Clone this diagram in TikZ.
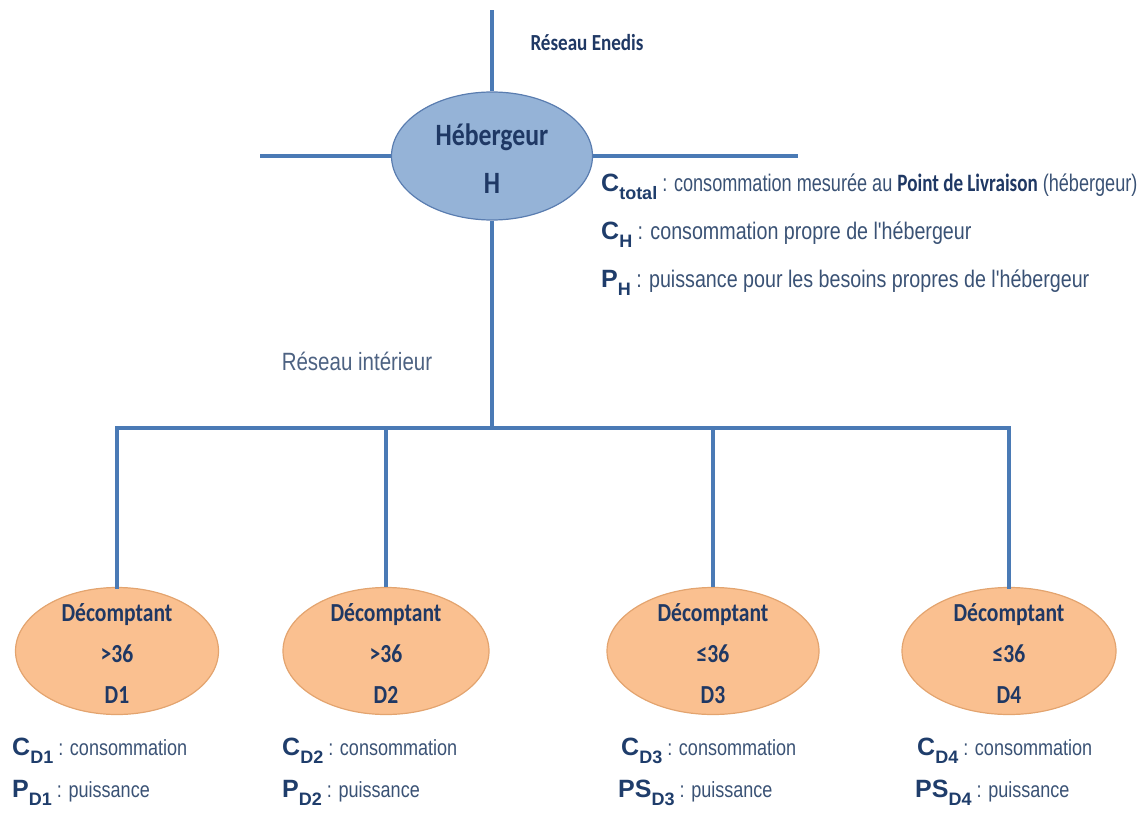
\documentclass[tikz,border=0pt]{standalone}
\usepackage{fontspec}
\setmainfont{Liberation Sans}
\newfontfamily\calf[FakeStretch=0.83]{Carlito}
\newfontfamily\narf[FakeStretch=0.82]{Liberation Sans}
\newfontfamily\arf{Liberation Sans}
\usetikzlibrary{shapes.geometric}
\definecolor{linecol}{HTML}{4A7AB5}
\definecolor{hebfill}{HTML}{95B3D7}
\definecolor{hebdraw}{HTML}{5A7DB0}
\definecolor{orfill}{HTML}{FAC090}
\definecolor{ordraw}{HTML}{E3A46F}
\definecolor{navy}{HTML}{1F3D6B}
\definecolor{inner}{HTML}{1F3864}
\definecolor{desccol}{HTML}{3A5275}
\definecolor{greyblue}{HTML}{4D6282}
\newcommand\mysym[2]{{\arf\bfseries\fontsize{25}{25}\selectfont #1}\raisebox{-8.5pt}{\arf\bfseries\fontsize{18}{18}\selectfont #2}}
\newcommand\mydesc[1]{{\narf\fontsize{24}{24}\selectfont\color{desccol}#1}}
\newcommand\mysdesc[1]{{\narf\fontsize{22}{22}\selectfont\color{desccol}#1}}
\tikzset{
  wire/.style={draw=linecol, line width=3.2pt},
  hebshape/.style={ellipse, draw=hebdraw, fill=hebfill, line width=1.2pt, inner sep=0pt},
  dshape/.style={ellipse, draw=ordraw, fill=orfill, line width=1.2pt, inner sep=0pt, minimum height=127pt},
  intext/.style={align=center, text=inner, inner sep=0pt},
  desc/.style={anchor=base west, inner sep=0pt, text=navy, align=left},
}
\begin{document}
\begin{tikzpicture}[x=1pt,y=-1pt]
\useasboundingbox (0,0) rectangle (1143,819);
% nodes
\node[hebshape, minimum width=201pt, minimum height=128pt] (heb) at (492,156) {};
\node[dshape, minimum width=203pt] (d1) at (117,651) {};
\node[dshape, minimum width=206pt] (d2) at (386,651) {};
\node[dshape, minimum width=212pt] (d3) at (713,651) {};
\node[dshape, minimum width=214pt] (d4) at (1009,651) {};
\coordinate (topc) at (492,10);
\coordinate (leftc) at (260,156);
\coordinate (rightc) at (798,156);
\coordinate (junc) at (492,428);
% connectors
\draw[wire] (topc) -- (heb.north);
\draw[wire] (leftc) -- (heb.west);
\draw[wire] (heb.east) -- (rightc);
\draw[wire] (heb.south) -- (junc);
\draw[wire, line cap=rect] (d1.north) |- (junc -| d4.north) -- (d4.north);
\draw[wire] (d2.north) -- (d2.north |- junc);
\draw[wire] (d3.north) -- (d3.north |- junc);
% texts in ellipses
\node[intext, font={\calf\bfseries\fontsize{31}{48}\selectfont}] (hebt) at ([yshift=-3pt]heb.center) {Hébergeur\\H};
\foreach \n/\s/\d in {d1/>36/D1, d2/>36/D2, d3/≤36/D3, d4/≤36/D4}{
  \node[intext, font={\calf\bfseries\fontsize{26}{41}\selectfont}] (\n t) at ([yshift=-3pt]\n.center) {Décomptant\\\s\\\d};
}
% labels
\node[anchor=center, inner sep=0pt, text=inner, font={\calf\bfseries\fontsize{23}{23}\selectfont}] (enedis) at (587,43) {Réseau Enedis};
\node[anchor=center, inner sep=0pt, text=greyblue, font={\narf\fontsize{25}{25}\selectfont}] (interieur) at (357,361) {Réseau intérieur};
% description of H
\node[desc] (ctot) at (601,191) {\mysym{C}{total}\scalebox{0.92}[1]{\mydesc{\ : consommation mesurée au }{\calf\bfseries\fontsize{25}{25}\selectfont\color{inner}Point de Livraison}\mydesc{\ (hébergeur)}}};
\node[desc] (ch) at (601,239) {\mysym{C}{H}\mydesc{\ : consommation propre de l'hébergeur}};
\node[desc] (ph) at (601,287) {\mysym{P}{H}\mydesc{\ : puissance pour les besoins propres de l'hébergeur}};
% descriptions of D
\node[desc] (cd1) at (12,755) {\mysym{C}{D1}\mysdesc{\ : consommation}};
\node[desc] (pd1) at (12,797) {\mysym{P}{D1}\mysdesc{\ : puissance}};
\node[desc] (cd2) at (282,755) {\mysym{C}{D2}\mysdesc{\ : consommation}};
\node[desc] (pd2) at (282,797) {\mysym{P}{D2}\mysdesc{\ : puissance}};
\node[desc] (cd3) at (621,755) {\mysym{C}{D3}\mysdesc{\ : consommation}};
\node[desc] (pd3) at (618,797) {\mysym{PS}{D3}\mysdesc{\ : puissance}};
\node[desc] (cd4) at (917,755) {\mysym{C}{D4}\mysdesc{\ : consommation}};
\node[desc] (pd4) at (915,797) {\mysym{PS}{D4}\mysdesc{\ : puissance}};
\end{tikzpicture}
\end{document}
